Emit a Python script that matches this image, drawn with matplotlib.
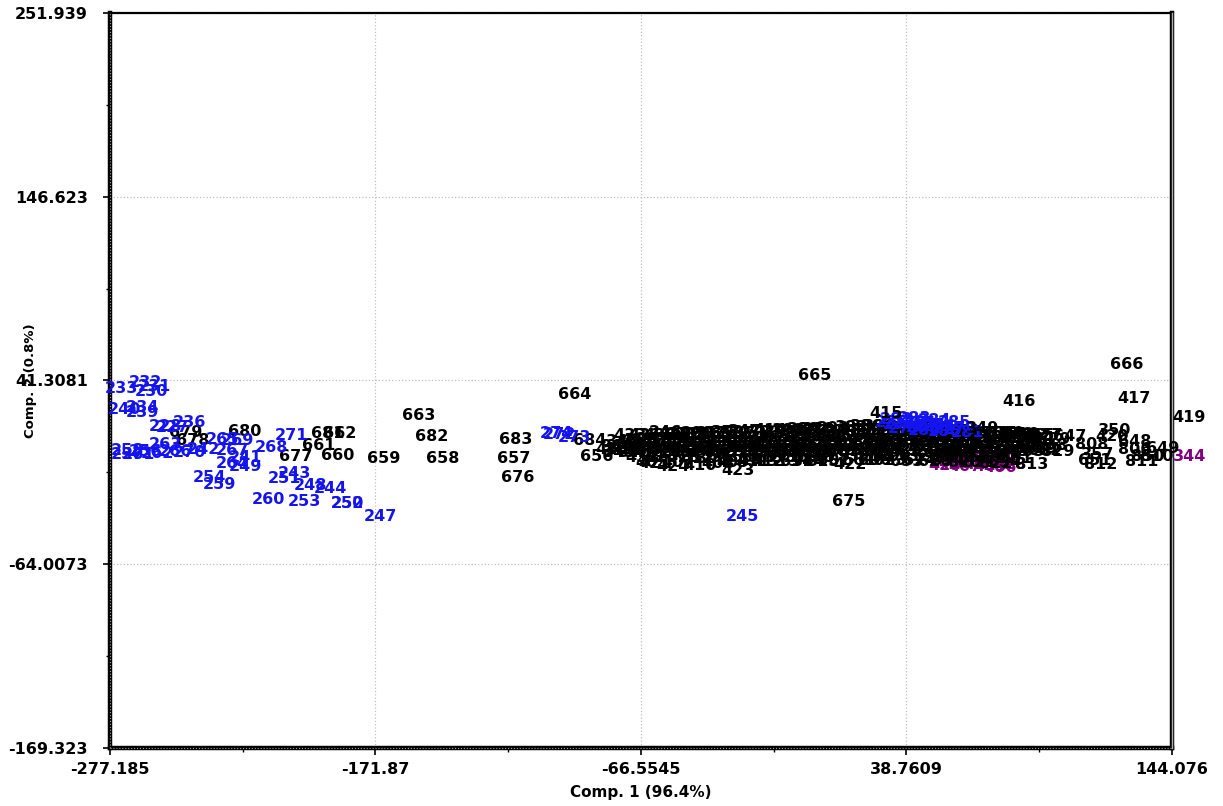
import matplotlib

matplotlib.use('Agg')
import matplotlib.pyplot as plt

# --- axis scales -------------------------------------------------------
x_ticks = [-277.185, -171.87, -66.5545, 38.7609, 144.076]
x_tick_labels = ['-277.185', '-171.87', '-66.5545', '38.7609', '144.076']
y_ticks = [-169.323, -64.0073, 41.3081, 146.623, 251.939]
y_tick_labels = ['-169.323', '-64.0073', '41.3081', '146.623', '251.939']

# --- isolated black samples --------------------------------------------
black_lbl = ['666', '417', '416', '419', '665', '664', '663', '682', '683', '658',
             '657', '676', '659', '660', '661', '681', '662', '677', '680', '679',
             '678', '684', '656', '675', '423', '422', '424', '410', '421', '694',
             '347', '414', '246']
black_x = [126.18, 128.95, 83.35, 150.77, 2.43, -92.76, -154.63, -149.47, -116.16, -145.11,
           -116.95, -115.36, -168.51, -186.76, -194.29, -190.72, -185.96, -203.41, -223.64, -247.04,
           -244.27, -86.81, -84.03, 15.92, -28.10, 16.31, -53.89, -43.18, -61.0, -4.71,
           -25.33, -15.42, -56.67]
black_y = [50.24, 30.76, 29.04, 19.87, 43.94, 33.05, 21.02, 8.98, 7.26, -3.62,
           -3.62, -14.50, -3.62, -1.90, 3.83, 10.70, 10.70, -2.47, 11.85, 11.28,
           6.69, 6.69, -2.47, -28.26, -10.49, -7.06, -8.20, -7.63, -6.5, -5.34,
           11.85, 12.42, 11.28]

# black samples on the right side of the cluster (drawn last)
right_lbl = ['415', '653', '349', '647', '420', '350', '808', '648', '806', '649',
             '850', '810', '811', '357', '651', '812', '813', '654', '814', '829', '632']
right_x = [30.59, 38.92, 69.07, 103.57, 120.23, 121.42, 112.30, 129.35, 129.35, 140.46,
           134.51, 138.08, 132.13, 114.68, 113.49, 115.87, 88.50, 77.79, 55.18, 98.80, 93.65]
right_y = [22.17, -5.34, 13.57, 8.98, 8.98, 12.42, 4.40, 6.12, 1.54, 2.11,
           -2.47, -2.47, -5.34, -1.33, -4.76, -7.06, -7.06, -5.91, -4.76, 0.39, 0.96]

# --- dense black cluster, row by row -----------------------------------
row_t_lbl = ['331', '290', '317', '358', '398', '389', '380', '292', '383', '386',
             '390', '302', '299', '327', '316', '341', '625', '646', '802', '627']
row_t_x = [-50, -44, -38, -32, -8, -2, 4, 10, 17, 23, 28, 34, 44, 50, 56, 62, 76, 82, 88, 94]
row_t_y = [10.5, 10.8, 11, 11.3, 12.6, 13, 13.4, 13.8, 14.3, 14.8,
           15, 14.5, 13.8, 13.2, 12.6, 12, 11, 10.5, 10, 9.5]

row_2_lbl = ['345', '434', '337', '308', '295', '312', '335', '360', '296', '298',
             '311', '374', '289', '366', '384', '393', '396', '305', '301', '323',
             '318', '339', '352', '628', '631', '636', '641', '645', '804', '629']
row_2_x = [-74, -68, -62, -56, -51, -45, -39, -34, -28, -22,
           -17, -11, -5, 1, 7, 13, 19, 25, 31, 37,
           43, 49, 55, 61, 67, 73, 79, 85, 91, 97]
row_2_y = [6.5, 7, 7.2, 7.5, 7.6, 7.8, 8, 8, 8.2, 8.3,
           8.5, 8.6, 8.8, 9, 9.2, 9.4, 9.6, 9.8, 10, 10,
           9.8, 9.6, 9.4, 9.2, 9, 8.8, 8.6, 8.4, 8, 7.6]

row_3_lbl = ['340', '348', '338', '342', '307', '313', '336', '361', '297', '291',
             '310', '375', '288', '367', '385', '394', '397', '306', '300', '324',
             '319', '326', '353', '630', '633', '637', '642', '644', '805', '638']
row_3_x = [-76, -71, -66, -60, -54, -48, -42, -36, -30, -24,
           -18, -12, -6, 0, 6, 12, 18, 24, 30, 36,
           42, 48, 54, 60, 66, 72, 78, 84, 90, 96]
row_3_y = [3.5, 3.6, 3.8, 4, 4, 4.2, 4.3, 4.4, 4.5, 4.6,
           4.8, 5, 5, 5.2, 5.2, 5.4, 5.5, 5.6, 5.6, 5.8,
           5.8, 5.6, 5.4, 5.2, 5, 4.8, 4.6, 4.4, 4.2, 4]

row_4_lbl = ['343', '346', '411', '413', '303', '314', '334', '362', '293', '294',
             '309', '376', '287', '368', '387', '395', '399', '304', '322', '325',
             '320', '329', '354', '634', '635', '639', '643', '803']
row_4_x = [-75, -69, -63, -57, -51, -45, -39, -33, -27, -21,
           -15, -9, -3, 3, 9, 15, 21, 27, 33, 39,
           45, 51, 57, 63, 69, 75, 81, 87]
row_4_y = [0, 0.2, 0.3, 0.4, 0.5, 0.6, 0.7, 0.8, 0.8, 0.9,
           1, 1, 1.1, 1.2, 1.2, 1.3, 1.4, 1.4, 1.5, 1.5,
           1.4, 1.3, 1.2, 1.1, 1, 0.9, 0.8, 0.6]

row_5_lbl = ['432', '425', '418', '412', '309', '315', '333', '363', '377', '370',
             '369', '378', '379', '391', '392', '400', '328', '330', '355', '603',
             '650', '652', '801']
row_5_x = [-66, -58, -50, -44, -38, -32, -26, -20, -14, -8,
           -2, 4, 10, 22, 28, 34, 46, 52, 58, 64, 70, 76, 82]
row_5_y = [-3, -3, -3, -3.2, -3.2, -3, -3, -3, -2.8, -2.8,
           -2.6, -2.6, -2.5, -2.5, -2.4, -2.4, -2.5, -2.6, -2.8, -3,
           -3, -3.2, -3.4]

# in-between rows that close the gaps
row_6_lbl = ['433', '431', '430', '429', '285', '286', '371', '372', '373', '381',
             '382', '388', '277', '278', '279', '280', '281', '282', '283', '284',
             '604', '605', '606', '607', '608', '609', '610', '815']
row_6_x = [-71, -65, -59, -53, -47, -41, -35, -29, -23, -17,
           -11, -5, 1, 7, 13, 19, 25, 31, 37, 43,
           49, 55, 61, 67, 73, 79, 85, 91]
row_6_y = [9.5, 10, 10, 10.3, 10.5, 10.6, 10.8, 11, 11.2, 11.4,
           11.6, 11.8, 12, 12, 12.2, 12.4, 12.6, 12.6, 12.4, 12.2,
           12, 11.8, 11.5, 11.2, 11, 10.8, 10.5, 10]
row_7_lbl = ['428', '427', '426', '419', '417', '416', '364', '365', '359', '356',
             '351', '332', '321', '611', '612', '613', '614', '615', '616', '617',
             '618', '619', '620', '621', '622', '816', '817', '818', '819']
row_7_x = [-78, -72, -66, -60, -54, -48, -42, -36, -30, -24,
           -18, -12, -6, 0, 6, 12, 18, 24, 30, 36,
           42, 48, 54, 60, 66, 72, 78, 84, 92]
row_7_y = [1.8, 2, 2.2, 2.4, 2.5, 2.6, 2.7, 2.8, 2.9, 3,
           3.1, 3.2, 3.3, 3.4, 3.4, 3.5, 3.5, 3.6, 3.6, 3.6,
           3.5, 3.4, 3.3, 3.2, 3, 2.8, 2.6, 2.4, 2.2]
row_8_lbl = ['405', '407', '408', '409', '411', '412', '313', '314', '315', '602',
             '601', '600', '623', '624', '626', '820', '821', '822']
row_8_x = [-62, -52, -36, -30, -22, -16, -10, 0, 6, 10, 20, 26, 32, 44, 50, 62, 68, 74]
row_8_y = [-5.5, -5.5, -6, -5.5, -5.2, -5.2, -5, -5, -5.2, -4.8,
           -4.8, -4.6, -4.6, -4.8, -5, -5.6, -5.8, -6]

# --- blue samples ------------------------------------------------------
blue_lbl = ['232', '231', '233', '230', '240', '234', '239', '228', '227', '236',
            '265', '269', '263', '242', '267', '268', '271', '258', '257', '256',
            '262', '266', '270', '261', '241', '264', '249', '254', '259', '243',
            '251', '248', '244', '260', '253', '250', '252', '247', '274', '272',
            '273', '245']
blue_x = [-262.91, -259.34, -272.43, -260.53, -271.24, -264.10, -264.10, -255.37, -252.59, -245.46,
          -232.37, -226.42, -255.37, -239.90, -228.40, -212.93, -205.00, -270.44, -270.44, -263.30,
          -258.15, -251.40, -245.46, -266.0, -223.25, -228.40, -223.25, -237.52, -233.56, -203.81,
          -207.78, -197.46, -189.53, -214.12, -199.85, -182.79, -182.79, -169.70, -99.90, -98.71,
          -92.76, -26.12]
blue_y = [39.93, 37.64, 36.49, 34.77, 24.46, 25.60, 22.74, 14.72, 14.14, 17.01,
          7.26, 6.69, 4.40, 1.54, 0.96, 2.68, 9.56, 0.96, -1.33, 0.39,
          -0.75, 0.39, -0.18, -0.9, -3.05, -6.48, -8.20, -14.50, -18.52, -12.21,
          -15.08, -19.09, -20.81, -27.11, -28.26, -29.40, -29.40, -36.85, 10.70, 10.13,
          8.41, -36.85]

# blue group sitting on top of the main cluster
blue_blob_lbl = ['235', '237', '238', '255', '275', '276', '277', '278', '279', '280',
                 '281', '282', '283', '284', '285', '286', '287']
blue_blob_x = [33, 36, 40, 44, 48, 52, 56, 60, 38, 46, 63, 35, 42, 50, 58, 54, 45]
blue_blob_y = [17, 16, 17.5, 16.5, 15.5, 15, 14, 13, 13.5, 12.5, 11.5,
               19, 19.5, 18.5, 17, 12, 14.5]

# --- purple samples ----------------------------------------------------
purple_lbl = ['401', '402', '403', '404', '405', '406', '407', '408', '409', '426',
              '427', '428', '429', '430', '344']
purple_x = [55, 60, 64, 68, 72, 76, 62, 58, 70, 66, 74, 80, 54, 78, 151.16]
purple_y = [-1, -3, -6, -7, -8, -8.5, -8, -6, -4, -1.5, -5.5, -7, -7.5, -2.5, -2.47]

BLUE = '#1414f0'
PURPLE = '#800080'


def put_labels(ax, xs, ys, labels, color):
    for x, y, s in zip(xs, ys, labels):
        ax.text(x, y, s, ha='center', va='center', color=color,
                fontsize=11.5, fontweight='bold', family='DejaVu Sans', clip_on=False)


fig = plt.figure(figsize=(12.23, 8.06), dpi=100)
ax = fig.add_axes([0.0899, 0.0720, 0.8683, 0.9119])

ax.set_xlim(x_ticks[0], x_ticks[-1])
ax.set_ylim(y_ticks[0], y_ticks[-1])

ax.set_xticks(x_ticks)
ax.set_xticklabels(x_tick_labels)
ax.set_yticks(y_ticks)
ax.set_yticklabels(y_tick_labels)
ax.set_xticks([(a + b) / 2 for a, b in zip(x_ticks[:-1], x_ticks[1:])], minor=True)
ax.set_yticks([(a + b) / 2 for a, b in zip(y_ticks[:-1], y_ticks[1:])], minor=True)
ax.tick_params(which='major', direction='out', length=5, width=1.2, labelsize=11.5)
ax.tick_params(which='minor', direction='out', length=3, width=1.0)
ax.tick_params(axis='x', pad=5)
ax.tick_params(axis='y', pad=11)
for lab in ax.get_xticklabels() + ax.get_yticklabels():
    lab.set_fontweight('bold')

ax.grid(True, which='major', linestyle=':', color='#c0c0c0', linewidth=0.9)
ax.set_axisbelow(True)

# frame: heavy left/bottom, double right, plain top
for side in ['left', 'bottom', 'right']:
    ax.spines[side].set_linewidth(3.2)
    ax.spines[side].set_color('black')
ax.spines['top'].set_linewidth(1.6)
ax.axvline(x_ticks[-1], color='#b0b0b0', linewidth=1.0, zorder=3, clip_on=False)
ax.axvline(x_ticks[0], color='#a0a0a0', linewidth=0.8, linestyle=':', zorder=3, clip_on=False)
ax.axhline(y_ticks[0], color='#a0a0a0', linewidth=0.8, linestyle=':', zorder=3, clip_on=False)

ax.set_xlabel('Comp. 1 (96.4%)', fontsize=11, fontweight='bold')
ax.set_ylabel('Comp. 2 (0.8%)', fontsize=9.5, fontweight='bold')
ax.xaxis.set_label_coords(0.5, -0.051)
ax.yaxis.set_label_coords(-0.0685, 0.5)

put_labels(ax, purple_x, purple_y, purple_lbl, PURPLE)
for xs, ys, labels in [(row_t_x, row_t_y, row_t_lbl), (row_6_x, row_6_y, row_6_lbl),
                       (row_2_x, row_2_y, row_2_lbl), (row_3_x, row_3_y, row_3_lbl),
                       (row_7_x, row_7_y, row_7_lbl), (row_4_x, row_4_y, row_4_lbl),
                       (row_5_x, row_5_y, row_5_lbl), (row_8_x, row_8_y, row_8_lbl)]:
    put_labels(ax, xs, ys, labels, 'black')
put_labels(ax, black_x, black_y, black_lbl, 'black')
put_labels(ax, blue_blob_x, blue_blob_y, blue_blob_lbl, BLUE)
put_labels(ax, blue_x, blue_y, blue_lbl, BLUE)
put_labels(ax, right_x, right_y, right_lbl, 'black')

fig.savefig('out.png', dpi=100)
plt.close(fig)
